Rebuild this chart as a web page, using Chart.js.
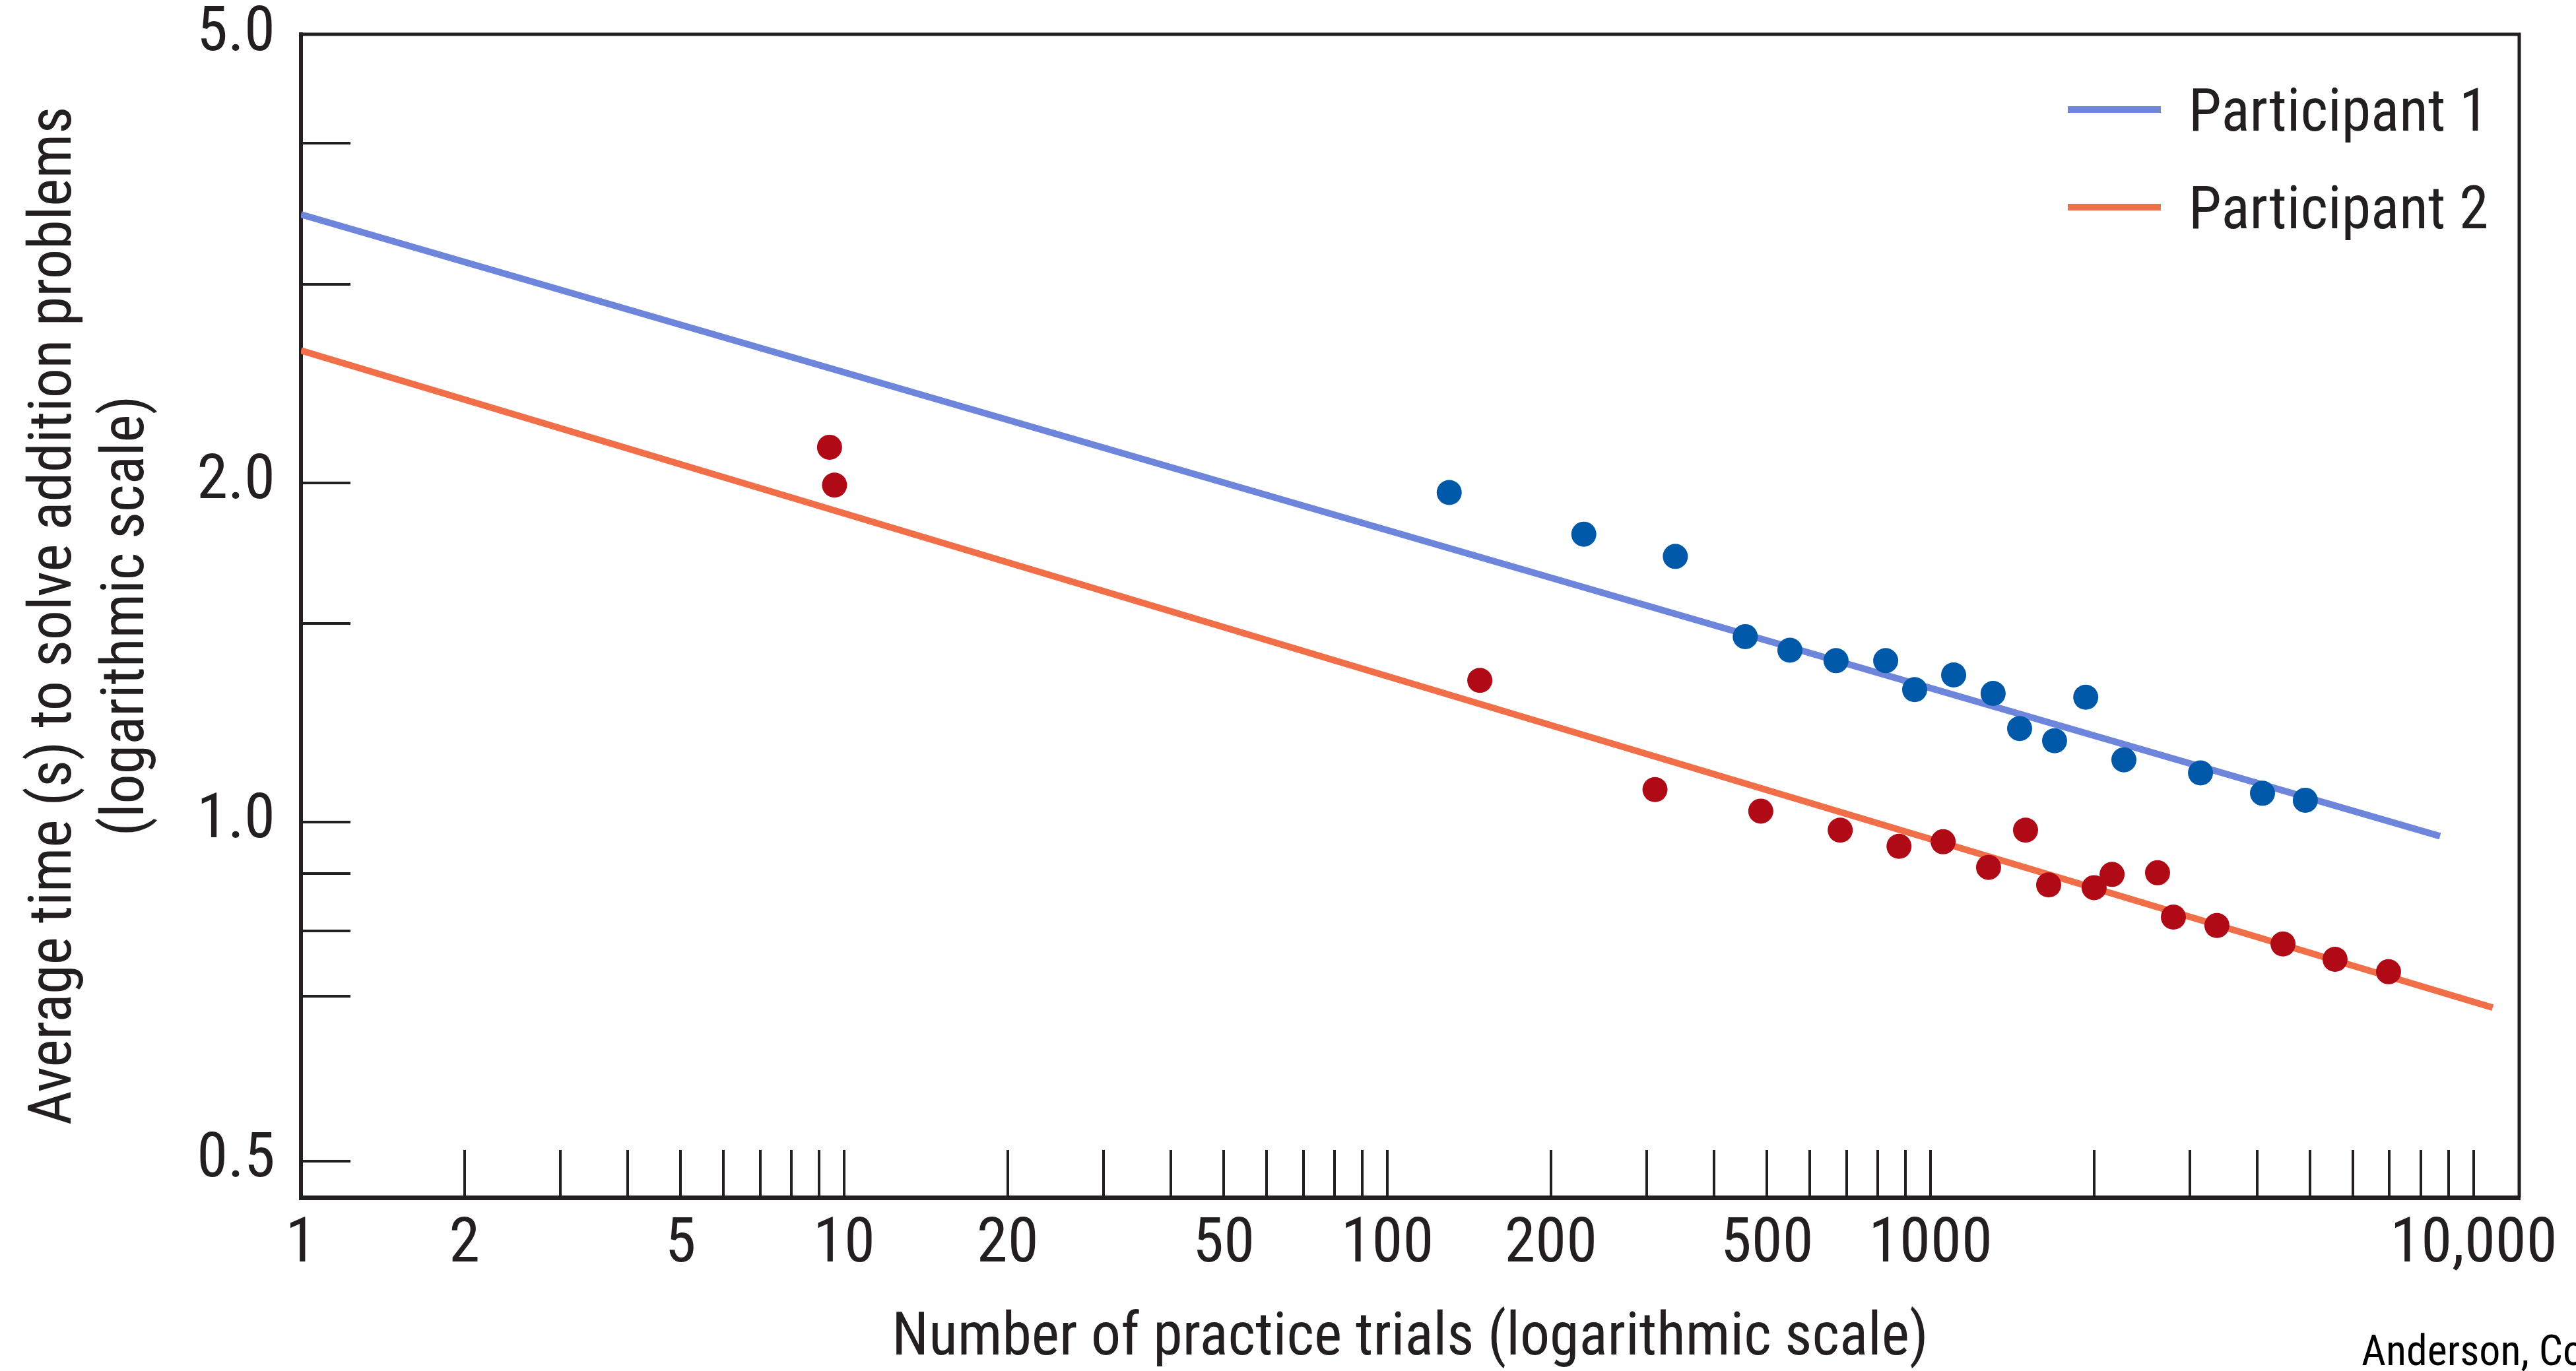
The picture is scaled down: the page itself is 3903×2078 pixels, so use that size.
<!DOCTYPE html>
<html>
<head>
<meta charset="utf-8">
<script src="https://cdn.jsdelivr.net/npm/chart.js@4.4.1/dist/chart.umd.min.js"></script>
<style>
  html, body { margin: 0; padding: 0; background: #fff; overflow: hidden; }
  #wrap { position: relative; width: 3903px; height: 2078px; }
  #source {
    position: absolute; left: 3578px; top: 2010px;
    font-size: 64px; color: #000; white-space: nowrap;
  }
</style>
</head>
<body>
<div id="wrap">
  <canvas id="practiceChart" width="3903" height="2078"></canvas>
  <div id="source">Anderson, Cognitive Psychology</div>
</div>
<script>
// participant 1 (blue dots)
const p1Trials = [130, 230, 339, 456, 551, 670, 827, 935, 1103, 1304, 1459, 1692, 1931, 2270, 3141, 4085, 4898]
const p1Times = [1.96, 1.80, 1.72, 1.46, 1.42, 1.39, 1.39, 1.31, 1.35, 1.30, 1.21, 1.18, 1.29, 1.135, 1.105, 1.06, 1.045]

// participant 2 (red dots)
const p2Trials = [9.4, 9.6, 148, 311, 487, 682, 875, 1055, 1279, 1496, 1650, 2001, 2159, 2618, 2800, 3367, 4456, 5556, 6970]
const p2Times = [2.15, 1.99, 1.335, 1.068, 1.022, 0.983, 0.951, 0.960, 0.911, 0.983, 0.879, 0.874, 0.898, 0.901, 0.823, 0.809, 0.779, 0.755, 0.736]

// power-law fit lines, end points
const p1FitTrials = [1, 8670]
const p1FitTimes = [3.46, 0.971]
const p2FitTrials = [1, 10840]
const p2FitTimes = [2.62, 0.684]

const seriesNames = ["Participant 1", "Participant 2"]

const xTickValues = [1, 2, 3, 4, 5, 6, 7, 8, 9, 10, 20, 30, 40, 50, 60, 70, 80, 90, 100,
  200, 300, 400, 500, 600, 700, 800, 900, 1000, 2000, 3000, 4000, 5000, 6000, 7000, 8000, 9000, 10000]
const xTickLabels = { 1: "1", 2: "2", 5: "5", 10: "10", 20: "20", 50: "50", 100: "100",
  200: "200", 500: "500", 1000: "1000", 10000: "10,000" }
const yTickValues = [0.5, 0.7, 0.8, 0.9, 1, 1.5, 2, 3, 4, 5]
const yTickLabels = { 0.5: "0.5", 1: "1.0", 2: "2.0", 5: "5.0" }

const toPoints = (xs, ys) => xs.map((x, i) => ({ x: x, y: ys[i] }))

const INK = "#231f20"

// the original lettering is a condensed face; use one if the machine has it
const condensedFamilies = ["Noto Sans Condensed", "Liberation Sans Narrow", "Roboto Condensed", "Open Sans Condensed", "DejaVu Sans Condensed"]

function pickFont() {
  const ctx = document.createElement("canvas").getContext("2d")
  const probe = "Number of practice trials 0123456789"
  ctx.font = "100px monospace"
  const base = ctx.measureText(probe).width
  for (const fam of condensedFamilies) {
    ctx.font = `100px "${fam}", monospace`
    if (ctx.measureText(probe).width !== base) {
      return { family: `"${fam}", "Open Sans", sans-serif`, size: 95, title: 90 }
    }
  }
  return { family: '"Open Sans", sans-serif', size: 80, title: 76 }
}

const FONT = pickFont()

// legend drawn inside the plot frame, top right
const insideLegend = {
  id: "insideLegend",
  afterDatasetsDraw(chart, args, opts) {
    const { ctx, chartArea } = chart
    ctx.save()
    ctx.font = `${FONT.title}px ${FONT.family}`
    ctx.textBaseline = "alphabetic"
    chart.data.datasets.filter((ds) => ds.showLine).forEach((ds, i) => {
      const y = chartArea.top + opts.top + i * opts.spacing
      const x = chartArea.right - opts.right
      ctx.strokeStyle = ds.borderColor
      ctx.lineWidth = ds.borderWidth
      ctx.beginPath()
      ctx.moveTo(x, y)
      ctx.lineTo(x + opts.lineLength, y)
      ctx.stroke()
      ctx.fillStyle = INK
      ctx.fillText(ds.label, x + opts.lineLength + opts.gap, y + opts.baseline)
    })
    ctx.restore()
  },
}

// top and right edges of the box
const frame = {
  id: "frame",
  afterDraw(chart, args, opts) {
    const { ctx, chartArea } = chart
    ctx.save()
    ctx.strokeStyle = opts.color
    ctx.lineWidth = opts.width
    ctx.beginPath()
    ctx.moveTo(chartArea.left, chartArea.top)
    ctx.lineTo(chartArea.right, chartArea.top)
    ctx.lineTo(chartArea.right, chartArea.bottom)
    ctx.stroke()
    ctx.restore()
  },
}

function createPracticeChart() {
  const data = {
    datasets: [
      {
        label: seriesNames[0] + " data",
        data: toPoints(p1Trials, p1Times),
        backgroundColor: "#0059a8",
        borderWidth: 0,
        pointRadius: 19,
        showLine: false,
      },
      {
        label: seriesNames[1] + " data",
        data: toPoints(p2Trials, p2Times),
        backgroundColor: "#b00a16",
        borderWidth: 0,
        pointRadius: 19,
        showLine: false,
      },
      {
        label: seriesNames[0],
        data: toPoints(p1FitTrials, p1FitTimes),
        borderColor: "#6d86dc",
        borderWidth: 10,
        pointRadius: 0,
        showLine: true,
      },
      {
        label: seriesNames[1],
        data: toPoints(p2FitTrials, p2FitTimes),
        borderColor: "#f06e48",
        borderWidth: 10,
        pointRadius: 0,
        showLine: true,
      },
    ],
  }

  const tickFont = { family: FONT.family, size: FONT.size, lineHeight: 1.0 }

  const config = {
    type: "scatter",
    data: data,
    plugins: [insideLegend, frame],
    options: {
      responsive: false,
      animation: false,
      devicePixelRatio: 1,
      layout: { padding: { top: 52, right: 86, left: 0, bottom: 0 } },
      plugins: {
        legend: { display: false },
        tooltip: { enabled: false },
        insideLegend: { top: 114, spacing: 148, right: 684, lineLength: 141, gap: 42, baseline: 32 },
        frame: { color: INK, width: 5 },
      },
      scales: {
        x: {
          type: "logarithmic",
          min: 1,
          max: 12130,
          afterFit: (scale) => {
            scale.height = 263
            scale.paddingLeft = 0
            scale.paddingRight = 0
          },
          afterBuildTicks: (scale) => { scale.ticks = xTickValues.map((v) => ({ value: v })) },
          grid: { drawOnChartArea: false, tickLength: -72, lineWidth: 4, color: INK },
          border: { display: true, width: 7, color: INK },
          ticks: {
            autoSkip: false,
            maxRotation: 0,
            padding: 98,
            color: INK,
            font: tickFont,
            callback: (value) => xTickLabels[value] || "",
          },
          title: {
            display: true,
            text: "Number of practice trials (logarithmic scale)",
            color: INK,
            font: { family: FONT.family, size: FONT.title, lineHeight: 1.0 },
            padding: { top: 0, bottom: 3 },
          },
        },
        y: {
          type: "logarithmic",
          min: 0.464,
          max: 5,
          afterFit: (scale) => {
            scale.width = 456
            scale.paddingTop = 0
            scale.paddingBottom = 0
          },
          afterBuildTicks: (scale) => { scale.ticks = yTickValues.map((v) => ({ value: v })) },
          grid: { drawOnChartArea: false, tickLength: -75, lineWidth: 4, color: INK },
          border: { display: true, width: 6, color: INK },
          ticks: {
            autoSkip: false,
            padding: 114,
            color: INK,
            font: tickFont,
            callback: (value) => yTickLabels[value] || "",
          },
          title: {
            display: true,
            text: ["Average time (s) to solve addition problems", "(logarithmic scale)"],
            color: INK,
            font: { family: FONT.family, size: FONT.title, lineHeight: 1.22 },
            padding: { top: 30, bottom: 0 },
          },
        },
      },
    },
  }

  document.getElementById("source").style.fontFamily = FONT.family

  const ctx = document.getElementById("practiceChart")
  const practiceChart = new Chart(ctx, config)
}

document.addEventListener("DOMContentLoaded", () => {
  createPracticeChart()
})
</script>
</body>
</html>
